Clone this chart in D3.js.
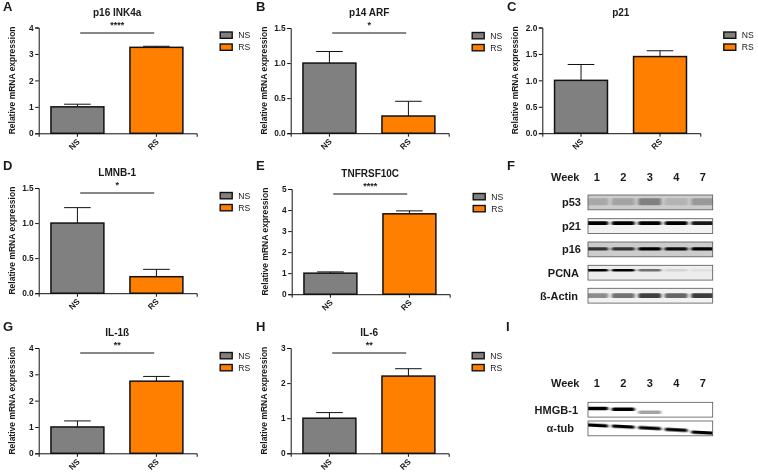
<!DOCTYPE html>
<html><head><meta charset="utf-8">
<script src="https://cdnjs.cloudflare.com/ajax/libs/d3/7.8.5/d3.min.js"></script>
<style>html,body{margin:0;padding:0;background:#fff}svg{display:block;filter:blur(.3px)}text{font-family:"Liberation Sans",Arial,sans-serif;fill:#1a1a1a}</style>
</head><body><svg id="c" width="758" height="474"></svg>
<script>
// ---- data ----
const groups = ["NS", "RS"];
const panelLetters = ["A","B","C","D","E","G","H"];
const titles = ["p16 INK4a","p14 ARF","p21","LMNB-1","TNFRSF10C","IL-1ß","IL-6"];
const stars = ["****","*","","*","****","**","**"];
const yMaxes = [4,1.5,2,1.5,5,4,3];
const yTicks = [[0,1,2,3,4],[0,.5,1,1.5],[0,.5,1,1.5,2],[0,.5,1,1.5],[0,1,2,3,4,5],[0,1,2,3,4],[0,1,2,3]];
const tickDigits = [0,1,1,1,0,0,0];
const nsValues = [1,1,1,1,1,1,1];
const rsValues = [3.25,0.245,1.45,0.235,3.82,2.74,2.2];
const nsTops = [1.1,1.165,1.3,1.22,1.06,1.23,1.16];
const rsTops = [3.29,0.455,1.56,0.34,3.96,2.92,2.41];
const weeks = ["1","2","3","4","7"];
const blotF = ["p53","p21","p16","PCNA","ß-Actin"];
const blotFLevels = [[.14,.16,.3,.1,.2],[1,1,1,.95,.85],[.6,.6,.85,.75,1],[1,.92,.5,.1,.05],[.4,.5,.7,.55,.72]];
const blotFShade = [.2,.05,.2,.07,.05];
const blotFDrop = [.45,.3,.47,.33,.5];
const blotFThick = [7,3.6,3.2,2.6,4.8];
const blotI = ["HMGB-1","α-tub"];
const blotILevels = [[1,1,.36,0,0],[1,1,1,1,1]];
const blotIDrop = [[.42,.47,.67,.5,.5],[.3,.38,.48,.6,.78]];
const blotIThick = [3.6,3.2];

// ---- layout ----
const frames = [
 {x:38.7,b:133.3,t:27.5,sig:33,tag:[3,10.5]},{x:290.7,b:133.2,t:28,sig:33,tag:[256,10.5]},{x:542.3,b:133.2,t:27.5,sig:33,tag:[507,10.5]},
 {x:38.7,b:293.2,t:188,sig:193,tag:[3,170]},{x:291.7,b:294.2,t:189,sig:194,tag:[256,170]},
 {x:38.7,b:453.3,t:348,sig:353,tag:[3,331]},{x:290.7,b:453.3,t:348,sig:353,tag:[256,331]}];
const colors = {NS:"#808080",RS:"#ff8000"};
const ink = "#111";
const svg = d3.select("#c");
const defs = svg.append("defs");
defs.append("filter").attr("id","b1").attr("x","-30%").attr("y","-200%").attr("width","160%").attr("height","500%")
  .append("feGaussianBlur").attr("stdDeviation","1.4 0.6");

frames.forEach((f,i)=>{
  const g = svg.append("g");
  const y = d3.scaleLinear().domain([0,yMaxes[i]]).range([f.b,f.t]);
  const x = d3.scaleBand().domain(groups).range([f.x,f.x+158]).paddingInner(.33).paddingOuter(.165).align(.47);
  const vals=[nsValues[i],rsValues[i]], tops=[nsTops[i],rsTops[i]];
  groups.forEach((k,j)=>{
    const cx=x(k)+x.bandwidth()/2;
    g.append("line").attr("x1",cx).attr("x2",cx).attr("y1",y(vals[j])).attr("y2",y(tops[j])).attr("stroke",ink).attr("stroke-width",1);
    g.append("line").attr("x1",cx-13.3).attr("x2",cx+13.3).attr("y1",y(tops[j])).attr("y2",y(tops[j])).attr("stroke",ink).attr("stroke-width",1);
    g.append("rect").attr("x",x(k)).attr("width",x.bandwidth()).attr("y",y(vals[j])).attr("height",y(0)-y(vals[j]))
      .attr("fill",colors[k]).attr("stroke",ink).attr("stroke-width",1.5);
  });
  const ya=g.append("g").attr("transform",`translate(${f.x},0)`)
    .call(d3.axisLeft(y).tickValues(yTicks[i]).tickSize(3.5).tickPadding(1.5).tickFormat(d3.format(`.${tickDigits[i]}f`)));
  const xa=g.append("g").attr("transform",`translate(0,${f.b})`)
    .call(d3.axisBottom(x).tickSize(3.5));
  [ya,xa].forEach(a=>{a.select(".domain").attr("stroke",ink).attr("stroke-width",1);a.selectAll(".tick line").attr("stroke",ink).attr("stroke-width",1);
    a.selectAll("text").style("font-family",'"Liberation Sans"').style("font-size","8.3px").style("font-weight","700").attr("fill","#222");});
  xa.selectAll(".tick text").attr("text-anchor","end").attr("x",0).attr("y",0).attr("dy",0).attr("transform","translate(3,9) rotate(-45)");
  g.append("text").attr("transform",`translate(${f.x-24},${(f.b+f.t)/2}) rotate(-90)`).attr("text-anchor","middle")
    .style("font-size","8.5px").style("font-weight","700").attr("fill","#333").text("Relative mRNA expression");
  g.append("text").attr("x",f.x+78.5).attr("y",f.t-12).attr("text-anchor","middle").style("font-size","10px").style("font-weight","700").text(titles[i]);
  if(stars[i]){
    g.append("line").attr("x1",f.x+41.5).attr("x2",f.x+115.5).attr("y1",f.sig).attr("y2",f.sig).attr("stroke",ink).attr("stroke-width",1.2);
    g.append("text").attr("x",f.x+78.5).attr("y",f.sig-5).attr("text-anchor","middle").style("font-size","9px").style("font-weight","700").text(stars[i]);
  }
  const lx=f.x+181.5;
  groups.forEach((k,j)=>{
    const ly=f.t+7.5+j*12;
    g.append("rect").attr("x",lx).attr("y",ly-3).attr("width",12).attr("height",6.3).attr("fill",colors[k]).attr("stroke",ink).attr("stroke-width",1.4);
    g.append("text").attr("x",lx+18).attr("y",ly+3).style("font-size","8.6px").attr("fill","#333").text(k);
  });
  g.append("text").attr("x",f.tag[0]).attr("y",f.tag[1]).style("font-size","13px").style("font-weight","700").attr("fill","#111").text(panelLetters[i]);
});

// ---- blots ----
const lane = d3.scalePoint().domain(weeks).range([596.7,702.7]);
const shade = d3.scaleLinear().domain([0,1]).range([255,0]);
function drawBlot(label,top,h,levels,bgShade,drops,thick,tilt,id,labelX){
  const g=svg.append("g");
  defs.append("clipPath").attr("id",id).append("rect").attr("x",588).attr("y",top).attr("width",124.7).attr("height",h);
  const v=shade(bgShade);
  g.append("rect").attr("x",588).attr("y",top).attr("width",124.7).attr("height",h).attr("fill",d3.rgb(v,v,v));
  const inner=g.append("g").attr("clip-path",`url(#${id})`);
  weeks.forEach((w,j)=>{
    const lv=levels[j];
    if(lv<=0) return;
    const c=shade(Math.min(1,bgShade+lv));
    const cy=top+h*(Array.isArray(drops)?drops[j]:drops);
    inner.append("rect").attr("x",lane(w)-11.5).attr("width",23).attr("y",cy-thick/2).attr("height",thick).attr("rx",1.5)
      .attr("fill",d3.rgb(c,c,c)).attr("filter","url(#b1)")
      .attr("transform",`rotate(${tilt} ${lane(w)} ${cy})`);
  });
  g.append("rect").attr("x",588).attr("y",top).attr("width",124.7).attr("height",h).attr("fill","none").attr("stroke","#555").attr("stroke-width",.8);
  g.append("text").attr("x",labelX).attr("y",top+h/2+3.8).attr("text-anchor","end").style("font-size","11px").style("font-weight","700").text(label);
}
const fTops=[195,218.7,242,265.3,288.3];
const fRight=[581,581,581,579,578];
blotF.forEach((n,i)=>drawBlot(n,fTops[i],14.8,blotFLevels[i],blotFShade[i],blotFDrop[i],blotFThick[i],0,"f"+i,fRight[i]));
const iTops=[402.3,421];
const iRight=[578,574];
const iTilt=[0,3];
blotI.forEach((n,i)=>drawBlot(n,iTops[i],14.8,blotILevels[i],0,blotIDrop[i],blotIThick[i],iTilt[i],"i"+i,iRight[i]));
[177,383].forEach(yy=>{
  svg.append("text").attr("x",579.5).attr("y",yy+4).attr("text-anchor","end").style("font-size","11px").style("font-weight","700").text("Week");
  weeks.forEach(w=>svg.append("text").attr("x",lane(w)).attr("y",yy+4).attr("text-anchor","middle").style("font-size","11px").style("font-weight","700").text(w));
});
[["F",507,170],["I",506,331]].forEach(d=>svg.append("text").attr("x",d[1]).attr("y",d[2]).style("font-size","13px").style("font-weight","700").attr("fill","#111").text(d[0]));
</script></body></html>
